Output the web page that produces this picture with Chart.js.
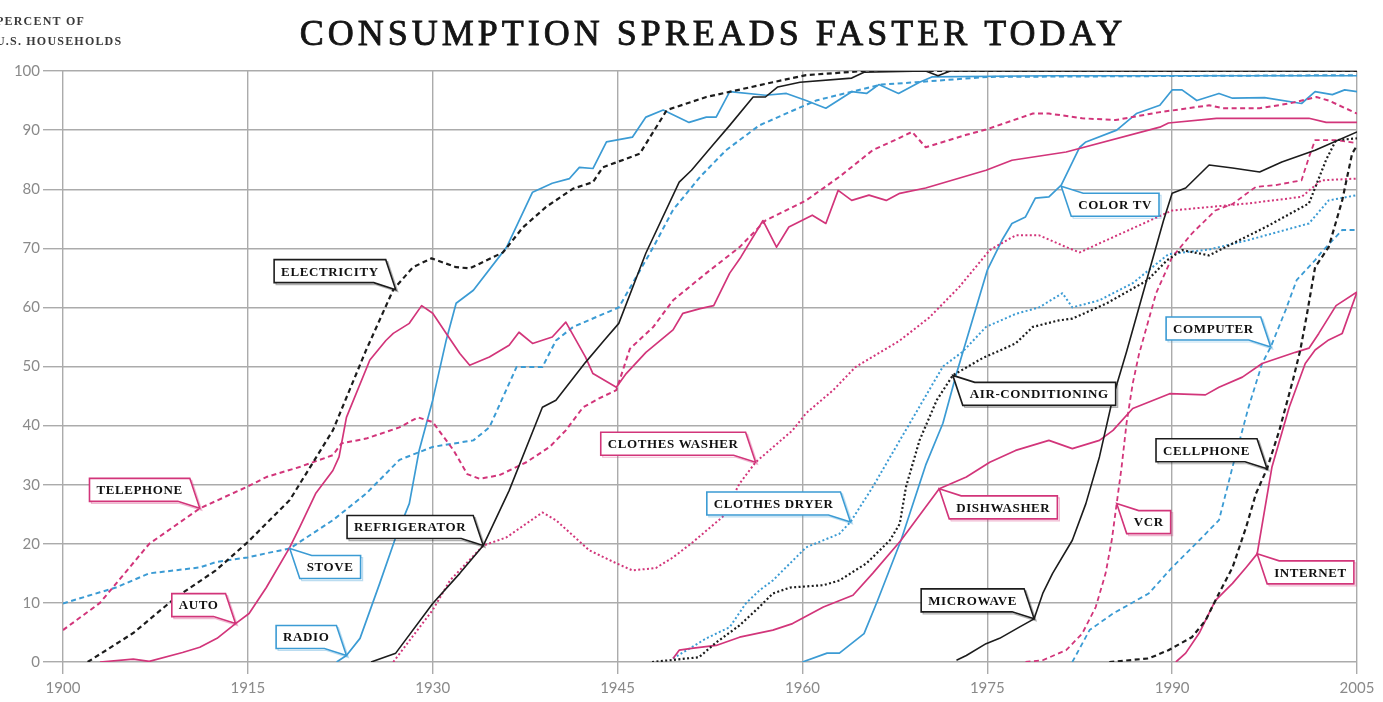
<!DOCTYPE html>
<html>
<head>
<meta charset="utf-8">
<title>Consumption spreads faster today</title>
<script src="https://cdn.jsdelivr.net/npm/chart.js@4.4.1/dist/chart.umd.min.js"></script>
<style>
  html, body { margin: 0; padding: 0; background: #fff; }
  #wrap { width: 1383px; height: 702px; }
</style>
</head>
<body>
<div id="wrap"><canvas id="chart" width="1383" height="702"></canvas></div>
<script>
// Pourcentage des ménages américains équipés, [année, %]
const electricity = [[1902,0],[1905.7,4.9],[1909.2,11],[1912.4,15.5],[1915,20.3],[1918.4,27.4],[1921.9,39.2],[1924.6,52.8],[1926.8,63],[1928.4,66.8],[1929.9,68.3],[1931.9,66.8],[1933,66.6],[1935.7,69.3],[1937.3,73.5],[1939.2,77],[1941.4,80.1],[1943,81.2],[1943.8,83.7],[1946.8,86],[1949,93.4],[1952.2,95.6],[1957.6,98.1],[1960.3,99.3],[1965,100],[2005,100]];
const refrigerator = [[1925,0],[1927,1.5],[1930,9.9],[1932.2,15],[1934.1,19.7],[1936.2,29],[1938.9,43.1],[1940,44.3],[1942.4,50.7],[1943.9,54.4],[1945.1,57.3],[1947.3,69.2],[1950,81.2],[1951,83.2],[1952.7,87.4],[1954.1,90.8],[1956,95.6],[1957,95.6],[1958,97.3],[1959.8,98.1],[1964,98.8],[1965,99.8],[1970,100],[1971,99.2],[1972,100],[2005,100]];
const airConditioning = [[1947.8,0],[1951.6,0.8],[1953,3.3],[1954.9,6.2],[1956.5,9.3],[1957.6,11.6],[1959,12.6],[1961.7,13],[1963,13.8],[1965.2,16.7],[1967.1,20.6],[1967.9,23.4],[1968.4,29.6],[1969.5,37.5],[1970.9,44.3],[1972.2,48.5],[1974.6,51.4],[1977.3,53.9],[1978.7,56.7],[1980.8,57.8],[1981.9,58.1],[1984.7,60.7],[1988,64.6],[1989.6,68],[1990.8,69.7],[1993,68.8],[1994.9,70.8],[1997.6,73.6],[2001.1,77.6],[2002.5,85],[2003.3,88.3],[2005,88.6]];
const microwave = [[1972.5,0.3],[1973.3,1.1],[1974.9,3.1],[1976,4],[1977.6,5.9],[1978.8,7.3],[1979.5,11.6],[1980.3,15],[1981.9,20.6],[1983,26.8],[1984.1,34.7],[1985.2,44.8],[1986.3,52.5],[1988,65.1],[1989.3,74.7],[1990,79.3],[1991.1,80.2],[1993,84.1],[1994.9,83.6],[1997.1,82.9],[1998.9,84.6],[2001.6,86.6],[2005,89.7]];
const cellphone = [[1984.9,0],[1988.1,0.6],[1989.7,2],[1991.6,4.2],[1992.7,7],[1993.8,11.6],[1994.9,16],[1996,22.8],[1996.8,28.5],[1997.7,32.7],[1998.7,39.2],[1999.8,47.7],[2000.4,52.8],[2000.9,58.4],[2001.6,66.8],[2002.7,70.2],[2003.8,78.1],[2004.6,86],[2005,87.4]];

const telephone = [[1900,5.4],[1903,10],[1907,20],[1911.1,26],[1915,29.7],[1916.5,31.3],[1919.2,33],[1921.9,35],[1922.6,37],[1924.6,37.8],[1927.3,39.7],[1928.8,41.4],[1930,40.6],[1931.7,35.8],[1932.8,31.8],[1933.8,31],[1935.4,31.6],[1937.6,33.8],[1939.5,36.4],[1940.8,39.2],[1942.2,43.1],[1943.5,44.6],[1944.9,46],[1946,53],[1947.9,56.7],[1949.5,61.2],[1952.2,65.8],[1954.9,70.2],[1957,74.7],[1960.3,78.1],[1963,82.1],[1965.7,86.6],[1967.8,88.6],[1968.9,89.7],[1970,87.1],[1973.3,89.2],[1974.9,90.1],[1978.7,92.8],[1980,92.8],[1982.7,92],[1985.4,91.7],[1988.9,93],[1993,94.2],[1994.1,93.7],[1997.1,93.7],[1999.5,94.5],[2001.7,95.6],[2002.7,95],[2005,92.8]];
const auto = [[1903,0],[1905.7,0.5],[1907,0.1],[1909.7,1.6],[1911.1,2.5],[1912.5,4],[1914,6.5],[1915.1,8.2],[1916.5,12.6],[1918.4,19.4],[1919.2,22.8],[1920.5,28.5],[1921.9,32.4],[1922.4,34.7],[1923,41.4],[1924.9,51.1],[1926.2,54.4],[1926.8,55.6],[1928.1,57.3],[1929.1,60.3],[1930,59],[1931.1,55.6],[1932.2,52.2],[1933,50.2],[1934.6,51.6],[1936.2,53.6],[1937,55.8],[1938.1,53.9],[1939.7,55],[1940.8,57.5],[1942.4,51.6],[1943,48.8],[1944.9,46.5],[1945.7,48.8],[1947.3,52.4],[1949.5,56.2],[1950.3,59],[1951.7,59.8],[1952.8,60.3],[1954.1,65.8],[1955,68.5],[1956.8,74.7],[1957.9,70.2],[1958.9,73.6],[1960.8,75.6],[1961.9,74.2],[1962.9,79.8],[1964,78.1],[1965.4,79],[1966.8,78.1],[1967.9,79.3],[1970,80.2],[1974.9,83.2],[1977,84.9],[1981.4,86.3],[1989,90.5],[1989.7,91.2],[1993.6,92],[2001.1,92],[2002.5,91.3],[2005,91.3]];
const clothesWasher = [[1926.8,0],[1930,8.8],[1931.4,13.8],[1934.1,19.7],[1936,21.1],[1938.9,25.3],[1940,24],[1942.7,18.9],[1944.9,16.7],[1946.2,15.5],[1948.1,15.9],[1949.5,17.7],[1951,20.1],[1953.5,24.5],[1954.9,30.2],[1956.2,33.8],[1959.2,39.2],[1960.3,42.1],[1962.5,46],[1964.3,49.9],[1967.9,54.4],[1970.3,58.3],[1972.7,63.4],[1975.2,69.7],[1977.3,72.2],[1979.2,72.2],[1981.4,70.2],[1982.5,69.3],[1984.7,71.4],[1990,76.4],[1996.2,77.6],[2000.5,78.7],[2002.1,81.5],[2005,81.8]];
const dishwasher = [[1949.5,0.6],[1950,2],[1951,2.3],[1953,2.8],[1954.9,4.2],[1957.6,5.4],[1959.2,6.5],[1961.7,9.3],[1964.1,11.3],[1965.7,15],[1968,20.6],[1971.1,29.3],[1973.3,31.3],[1975.2,33.8],[1977.3,35.8],[1980,37.5],[1981.9,36.1],[1984.1,37.5],[1985.2,39.2],[1986.8,42.9],[1989.8,45.4],[1992.7,45.2],[1993.8,46.5],[1995.7,48.2],[1997.3,50.5],[2000,52.4],[2001.1,53.1],[2001.9,55.6],[2003.3,60.3],[2005,62.6]];
const vcr = [[1978.1,0],[1979.5,0.3],[1981.4,2],[1982.7,4.8],[1983.8,9.3],[1984.6,15],[1985.1,20.6],[1985.5,26.8],[1985.9,33],[1986.3,40.4],[1986.8,47.1],[1987.3,52],[1988.7,62.4],[1990,68.5],[1991.6,72.5],[1993.5,76.4],[1994.9,77.5],[1996.8,80.4],[1998.4,80.7],[2000.5,81.5],[2001.1,85.4],[2001.6,88.3],[2003.3,88.3],[2005,87.8]];
const internet = [[1990.3,0],[1991.1,1.5],[1992.2,4.9],[1993.5,10.4],[1994.9,13.3],[1996,16],[1996.9,18.3],[1998.1,33],[1999.5,43.1],[2000.8,50.5],[2001.6,52.8],[2002.7,54.5],[2003.8,55.6],[2005,62.6]];

const stove = [[1900,9.9],[1903,11.8],[1904.3,12.6],[1907,15],[1911.1,16],[1912.4,16.9],[1915,17.7],[1916.5,18.4],[1918.4,19.2],[1921.9,24],[1924.6,28.5],[1927.3,34.2],[1930,36.4],[1933.3,37.5],[1934.6,39.7],[1936.8,49.9],[1938.9,49.9],[1940,54.4],[1941.4,56.7],[1945.1,60],[1946.5,65.1],[1947.9,70.2],[1949.5,76.5],[1951.7,82.1],[1953.8,86.6],[1956.5,90.8],[1958.9,93],[1961.1,95],[1964,96.5],[1966.4,97.7],[1969.2,98.1],[1975,99],[2005,99.3]];
const radio = [[1922.2,0],[1923,1.1],[1924.1,4],[1925.7,13.3],[1927,21.1],[1928.1,26.8],[1928.9,35.8],[1930,44.3],[1931.1,54.5],[1931.9,60.7],[1933.3,62.9],[1936,70.2],[1938.1,79.5],[1939.7,81],[1941.1,81.8],[1941.9,83.7],[1943,83.5],[1944.1,88],[1946.2,88.8],[1947.3,92.2],[1948.7,93.4],[1950.8,91.3],[1952.2,92.2],[1953,92.2],[1954.1,96.5],[1957,95.9],[1958.7,96.2],[1960.3,95],[1961.9,93.7],[1964,96.5],[1965.2,96.2],[1966.2,97.7],[1967.8,96.2],[1969.5,98.1],[1970.5,99],[1980,99.2],[2005,99.2]];
const clothesDryer = [[1949.5,0.6],[1952.2,4],[1954.1,5.9],[1955.4,9.9],[1956.5,12.1],[1957.6,13.8],[1960.3,19.4],[1963,21.7],[1963.9,23.7],[1965.7,29.6],[1967.9,37.5],[1971.4,50],[1973,52.5],[1974.9,56.7],[1977.3,58.9],[1979.2,60],[1981.1,62.4],[1981.9,60],[1984.1,61.2],[1986.8,64.1],[1989.7,69],[1993,69.8],[1996.2,71.4],[2001.1,74.2],[2002.7,78.1],[2005,79]];
const colorTV = [[1960,0],[1962,1.5],[1963,1.5],[1965,4.8],[1966.1,10.4],[1968,20.6],[1970,33.3],[1971.4,40.4],[1972.5,48.8],[1973.3,54.4],[1975,66.3],[1976.2,71.4],[1977,74.2],[1978.1,75.3],[1978.9,78.5],[1980,78.7],[1981,80.7],[1982.5,87.1],[1983,88],[1985.5,90],[1987.1,92.8],[1989,94.2],[1990,96.8],[1990.8,96.8],[1992,95],[1993.8,96.2],[1994.9,95.4],[1997.5,95.5],[2000.5,94.5],[2001.6,96.5],[2003,96],[2004,96.8],[2005,96.5]];
const computer = [[1981.9,0],[1983.3,5.4],[1985.2,8.2],[1988.1,11.6],[1990,16],[1992.2,20.6],[1993.8,24],[1994.9,33],[1996.2,43.1],[1997.3,50.5],[1998,53.3],[1999.2,59.5],[2000.1,64.6],[2001.6,68],[2002.1,69.3],[2003.8,73.1],[2005,73.1]];

const TITLE = 'CONSUMPTION SPREADS FASTER TODAY';
const AXIS_TITLE = ['PERCENT OF', 'U.S. HOUSEHOLDS'];

// couleurs et styles de trait
const PINK = '#d2357a';
const BLUE = '#3b9bd4';
const BLACK = '#1c1c1c';
const DASH = [5, 3.5];
const DOT = [2, 2.4];

const series = [
  { label: 'Electricity', data: electricity, color: BLACK, dash: DASH, width: 2.2 },
  { label: 'Refrigerator', data: refrigerator, color: BLACK, dash: [], width: 1.6 },
  { label: 'Air-conditioning', data: airConditioning, color: BLACK, dash: DOT, width: 2.2 },
  { label: 'Microwave', data: microwave, color: BLACK, dash: [], width: 1.6 },
  { label: 'Cellphone', data: cellphone, color: BLACK, dash: DASH, width: 2.2 },
  { label: 'Telephone', data: telephone, color: PINK, dash: DASH, width: 2 },
  { label: 'Auto', data: auto, color: PINK, dash: [], width: 1.7 },
  { label: 'Clothes washer', data: clothesWasher, color: PINK, dash: DOT, width: 2 },
  { label: 'Dishwasher', data: dishwasher, color: PINK, dash: [], width: 1.7 },
  { label: 'VCR', data: vcr, color: PINK, dash: DASH, width: 1.8 },
  { label: 'Internet', data: internet, color: PINK, dash: [], width: 1.7 },
  { label: 'Stove', data: stove, color: BLUE, dash: DASH, width: 2 },
  { label: 'Radio', data: radio, color: BLUE, dash: [], width: 1.7 },
  { label: 'Clothes dryer', data: clothesDryer, color: BLUE, dash: DOT, width: 2 },
  { label: 'Color TV', data: colorTV, color: BLUE, dash: [], width: 1.7 },
  { label: 'Computer', data: computer, color: BLUE, dash: DASH, width: 1.8 }
];

// étiquettes : point visé [année, %] et côté de la bulle (br = bulle en haut à gauche, tl = bulle en bas à droite)
const callouts = [
  { text: 'ELECTRICITY', at: [1927, 63], color: BLACK, side: 'br' },
  { text: 'TELEPHONE', at: [1911.1, 26], color: PINK, side: 'br' },
  { text: 'AUTO', at: [1914, 6.5], color: PINK, side: 'br' },
  { text: 'STOVE', at: [1918.4, 19.2], color: BLUE, side: 'tl' },
  { text: 'RADIO', at: [1923, 1.1], color: BLUE, side: 'br' },
  { text: 'REFRIGERATOR', at: [1934.1, 19.7], color: BLACK, side: 'br' },
  { text: 'CLOTHES WASHER', at: [1956.2, 33.8], color: PINK, side: 'br' },
  { text: 'CLOTHES DRYER', at: [1963.9, 23.7], color: BLUE, side: 'br' },
  { text: 'COLOR TV', at: [1981, 80.5], color: BLUE, side: 'tl' },
  { text: 'COMPUTER', at: [1998, 53.3], color: BLUE, side: 'br' },
  { text: 'AIR-CONDITIONING', at: [1972.2, 48.5], color: BLACK, side: 'tl' },
  { text: 'DISHWASHER', at: [1971.1, 29.3], color: PINK, side: 'tl' },
  { text: 'VCR', at: [1985.5, 26.8], color: PINK, side: 'tl' },
  { text: 'MICROWAVE', at: [1978.8, 7.3], color: BLACK, side: 'br' },
  { text: 'CELLPHONE', at: [1997.7, 32.7], color: BLACK, side: 'br' },
  { text: 'INTERNET', at: [1996.9, 18.3], color: PINK, side: 'tl' }
];

const datasets = series.map(s => ({
  label: s.label,
  data: s.data.map(p => ({ x: p[0], y: p[1] })),
  borderColor: s.color,
  borderWidth: s.width,
  borderDash: s.dash,
  borderCapStyle: 'butt',
  borderJoinStyle: 'round',
  pointRadius: 0,
  tension: 0,
  fill: false
}));

// titre, titre d'axe et étiquettes en bulles
const overlay = {
  id: 'overlay',
  afterDatasetsDraw(chart) {
    const { ctx, scales: { x, y } } = chart;
    ctx.save();

    ctx.fillStyle = '#141414';
    ctx.strokeStyle = '#141414';
    ctx.lineWidth = 0.8;
    ctx.font = '36px "Liberation Serif", "DejaVu Serif", serif';
    ctx.letterSpacing = '4px';
    ctx.textAlign = 'center';
    ctx.textBaseline = 'alphabetic';
    ctx.fillText(TITLE, 713, 45);
    ctx.strokeText(TITLE, 713, 45);

    ctx.fillStyle = '#3a3a3a';
    ctx.font = 'bold 12px "Liberation Serif", serif';
    ctx.letterSpacing = '1.2px';
    ctx.textAlign = 'left';
    ctx.fillText(AXIS_TITLE[0], -4, 25);
    ctx.fillText(AXIS_TITLE[1], -4, 45);

    ctx.font = 'bold 13px "Liberation Serif", "DejaVu Serif", serif';
    ctx.letterSpacing = '0.6px';
    ctx.textBaseline = 'middle';
    callouts.forEach(c => {
      const px = x.getPixelForValue(c.at[0]);
      const py = y.getPixelForValue(c.at[1]);
      const w = ctx.measureText(c.text).width + 14;
      const h = 23;
      let pts, L, T;
      if (c.side === 'br') {
        const R = px - 10, B = py - 7;
        L = R - w; T = B - h;
        pts = [[L, T], [R, T], [px, py], [R - 12, B], [L, B]];
      } else {
        L = px + 10; T = py + 7;
        const R = L + w, B = T + h;
        pts = [[px, py], [L + 12, T], [R, T], [R, B], [L, B]];
      }
      const path = (ox, oy) => {
        ctx.beginPath();
        pts.forEach((p, i) => i ? ctx.lineTo(p[0] + ox, p[1] + oy) : ctx.moveTo(p[0] + ox, p[1] + oy));
        ctx.closePath();
      };
      ctx.globalAlpha = 0.35;
      ctx.strokeStyle = c.color;
      ctx.lineWidth = 1.2;
      path(2, 2);
      ctx.stroke();
      ctx.globalAlpha = 1;
      path(0, 0);
      ctx.fillStyle = '#fff';
      ctx.fill();
      ctx.lineWidth = 1.6;
      ctx.stroke();
      ctx.fillStyle = '#111';
      ctx.fillText(c.text, L + 7, T + h / 2 + 1);
    });
    ctx.restore();
  }
};

const tickFont = { family: 'Lato, "Noto Sans", sans-serif', size: 15 };

new Chart(document.getElementById('chart'), {
  type: 'line',
  data: { datasets },
  plugins: [overlay],
  options: {
    responsive: false,
    animation: false,
    layout: { padding: { top: 71, right: 26, left: 0, bottom: 0 } },
    plugins: {
      legend: { display: false },
      tooltip: { enabled: false },
      title: { display: false }
    },
    scales: {
      x: {
        type: 'linear',
        min: 1900,
        max: 2005,
        ticks: { stepSize: 15, color: '#8a8a8a', font: tickFont, padding: 5, maxRotation: 0, callback: v => String(v) },
        grid: { color: '#ababab', lineWidth: 1.4, tickLength: 12 },
        border: { display: false },
        afterFit: s => { s.height = 40; }
      },
      y: {
        min: 0,
        max: 100,
        ticks: { stepSize: 10, color: '#8a8a8a', font: tickFont, padding: 3 },
        grid: { color: '#ababab', lineWidth: 1.4, tickLength: 20 },
        border: { display: false },
        afterFit: s => { s.width = 63; }
      }
    }
  }
});
</script>
</body>
</html>
